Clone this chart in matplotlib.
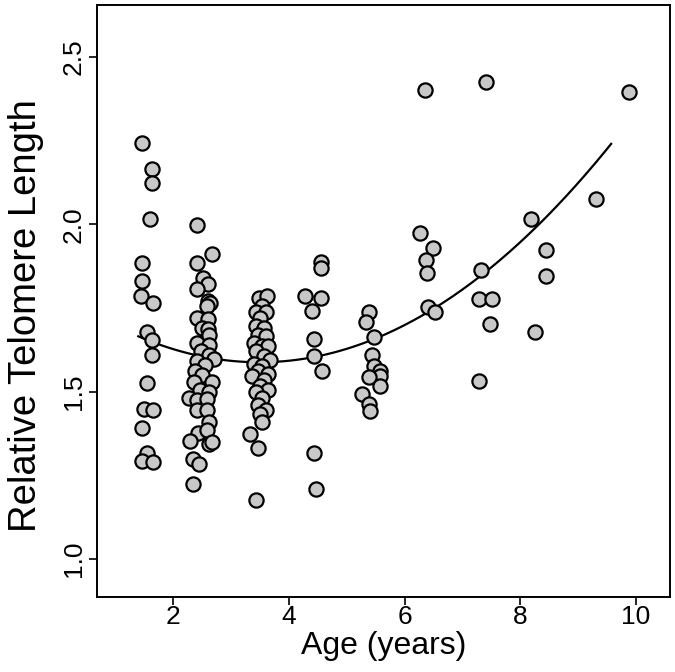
import matplotlib
matplotlib.use("Agg")
import matplotlib.pyplot as plt
import numpy as np

plt.rcParams['font.family'] = ['Liberation Sans', 'DejaVu Sans']

# ---- data ----
age_g1 = [1.47, 1.63, 1.63, 1.61, 1.46, 1.46, 1.45, 1.65, 1.55, 1.64, 1.64, 1.55, 1.50, 1.65, 1.46, 1.55, 1.46, 1.65]
rtl_g1 = [2.244, 2.165, 2.123, 2.016, 1.884, 1.831, 1.786, 1.765, 1.678, 1.654, 1.61, 1.526, 1.448, 1.445, 1.391, 1.317, 1.293, 1.29]

age_g2 = [2.41, 2.67, 2.41, 2.51, 2.61, 2.41, 2.61, 2.64, 2.58, 2.41, 2.61, 2.50, 2.61, 2.63, 2.41, 2.63,
          2.48, 2.63, 2.70, 2.41, 2.55, 2.38, 2.50, 2.36, 2.67, 2.47, 2.63, 2.28, 2.41, 2.59, 2.41, 2.59,
          2.63, 2.44, 2.59, 2.29, 2.63, 2.67, 2.35, 2.45, 2.35]
rtl_g2 = [1.997, 1.91, 1.885, 1.84, 1.82, 1.805, 1.77, 1.766, 1.757, 1.72, 1.716, 1.69, 1.686, 1.67, 1.646, 1.64,
          1.62, 1.61, 1.596, 1.59, 1.58, 1.56, 1.55, 1.528, 1.528, 1.506, 1.50, 1.48, 1.476, 1.478, 1.446, 1.446,
          1.408, 1.376, 1.386, 1.351, 1.344, 1.348, 1.298, 1.284, 1.225]

age_g3 = [3.49, 3.62, 3.54, 3.43, 3.61, 3.50, 3.43, 3.57, 3.47, 3.61, 3.40, 3.54, 3.64, 3.43, 3.57, 3.68,
          3.40, 3.54, 3.47, 3.64, 3.37, 3.57, 3.50, 3.64, 3.43, 3.54, 3.47, 3.61, 3.50, 3.54, 3.33, 3.47, 3.43]
rtl_g3 = [1.78, 1.786, 1.756, 1.738, 1.738, 1.72, 1.696, 1.69, 1.67, 1.666, 1.645, 1.636, 1.636, 1.62, 1.607, 1.595,
          1.583, 1.577, 1.56, 1.553, 1.547, 1.535, 1.517, 1.505, 1.50, 1.48, 1.46, 1.445, 1.433, 1.41, 1.373, 1.332, 1.176]

age_g4 = [4.28, 4.56, 4.56, 4.56, 4.41, 4.43, 4.43, 4.57, 4.43, 4.47]
rtl_g4 = [1.786, 1.887, 1.87, 1.78, 1.74, 1.657, 1.607, 1.56, 1.317, 1.21]

age_g5 = [5.38, 5.33, 5.47, 5.43, 5.47, 5.57, 5.57, 5.38, 5.57, 5.26, 5.38, 5.40]
rtl_g5 = [1.738, 1.709, 1.663, 1.609, 1.576, 1.56, 1.546, 1.543, 1.516, 1.493, 1.464, 1.441]

age_g6 = [6.27, 6.49, 6.37, 6.39, 6.41, 6.53, 6.36]
rtl_g6 = [1.975, 1.93, 1.892, 1.853, 1.752, 1.737, 2.40]

age_g7 = [7.41, 7.32, 7.28, 7.51, 7.47, 7.29]
rtl_g7 = [2.424, 1.863, 1.775, 1.775, 1.703, 1.53]

age_g8 = [8.18, 8.44, 8.44, 8.25]
rtl_g8 = [2.017, 1.922, 1.845, 1.678]

age_g9 = [9.31, 9.88]
rtl_g9 = [2.075, 2.395]

# quadratic fit (intercept, linear, quadratic) and its plotted age range
fit_coef = [1.8033, -0.12356, 0.01768]
fit_range = [1.40, 9.57]

x_ticks = [2, 4, 6, 8, 10]
y_ticks = [1.0, 1.5, 2.0, 2.5]
y_tick_labels = ["1.0", "1.5", "2.0", "2.5"]

ages = np.concatenate([age_g1, age_g2, age_g3, age_g4, age_g5, age_g6, age_g7, age_g8, age_g9])
rtl = np.concatenate([rtl_g1, rtl_g2, rtl_g3, rtl_g4, rtl_g5, rtl_g6, rtl_g7, rtl_g8, rtl_g9])

# ---- figure ----
fig = plt.figure(figsize=(6.75, 6.72), dpi=100)
ax = fig.add_axes([97/675, 1 - 597/672, (670 - 97)/675, (597 - 5)/672])

ax.scatter(ages, rtl, s=105, facecolor='#c8c8c8', edgecolor='black', linewidths=1.6, zorder=3)

xs = np.linspace(fit_range[0], fit_range[1], 200)
ys = fit_coef[0] + fit_coef[1]*xs + fit_coef[2]*xs**2
ax.plot(xs, ys, color='black', lw=1.6, zorder=2)

ax.set_xlim(0.687, 10.587)
ax.set_ylim(0.886, 2.655)
ax.set_xticks(x_ticks)
ax.set_xticklabels([str(t) for t in x_ticks])
ax.set_yticks(y_ticks)
ax.set_yticklabels(y_tick_labels, rotation=90, va='center')

ax.tick_params(axis='both', direction='out', length=6, width=1.2, labelsize=19, colors='black')
ax.tick_params(axis='x', pad=0)
ax.tick_params(axis='y', pad=2)
for sp in ax.spines.values():
    sp.set_linewidth(1.4)
    sp.set_color('black')

ax.set_xlabel("Age (years)", fontsize=23, labelpad=1)
ax.set_ylabel("Relative Telomere Length", fontsize=27.5)
ax.yaxis.set_label_coords(-0.092, 0.476)

fig.savefig("out.png", dpi=100)
